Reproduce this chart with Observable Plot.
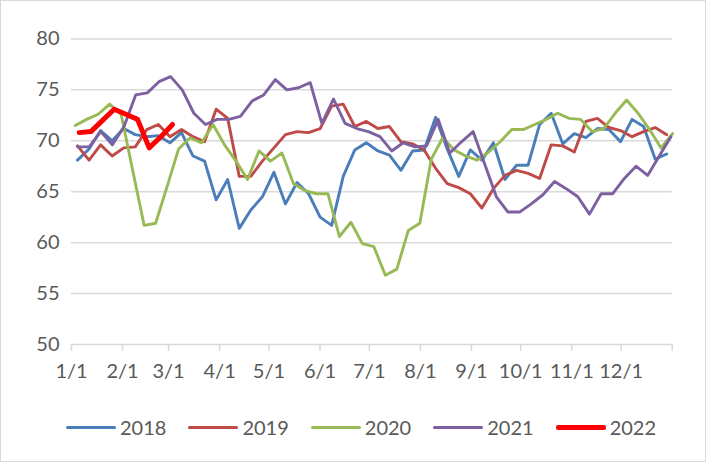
<!DOCTYPE html>
<html><head><meta charset="utf-8">
<script src="https://cdn.jsdelivr.net/npm/d3@7"></script>
<script src="https://cdn.jsdelivr.net/npm/@observablehq/plot@0.6"></script>
<style>
body{margin:0;background:#fff;}
#chart{position:relative;width:706px;height:462px;box-sizing:border-box;border:1px solid #d9d9d9;font-family:Lato,"Open Sans",sans-serif;color:#595959;overflow:hidden;background:#fff;}
#legend{position:absolute;left:65px;top:413px;display:flex;gap:22px;font-size:20px;line-height:26px;}
.item{display:flex;align-items:center;}
.swatch{width:50px;height:3px;border-radius:2px;margin-right:4px;}
</style></head><body><div id="chart"><div id="plot"></div><div id="legend"></div></div>
<script>
// Month tick positions (day of year) and their labels
const monthTickDays = [0, 31, 59, 90, 120, 151, 181, 212, 243, 273, 304, 334, 365];
const monthLabels = ["1/1","2/1","3/1","4/1","5/1","6/1","7/1","8/1","9/1","10/1","11/1","12/1",""];
const yTicks = [50, 55, 60, 65, 70, 75, 80];

const seriesNames = ["2018", "2019", "2020", "2021", "2022"];

// Weekly values
const v2018 = [68.1,69.2,71.0,70.0,71.2,70.6,70.4,70.5,69.8,70.8,
  68.5,68.0,64.2,66.2,61.4,63.2,64.5,66.9,63.8,65.9,
  64.8,62.5,61.7,66.5,69.1,69.8,69.0,68.6,67.1,69.0,
  69.1,72.3,69.2,66.5,69.1,68.1,69.8,66.2,67.6,67.6,
  71.6,72.7,69.7,70.7,70.3,71.2,71.1,69.9,72.1,71.4,
  68.2,68.7];
const v2019 = [69.5,68.1,69.6,68.5,69.3,69.4,71.1,71.6,70.4,71.1,
  70.4,69.9,73.1,72.2,66.5,66.5,68.0,69.3,70.6,70.9,
  70.8,71.2,73.4,73.6,71.4,71.9,71.2,71.4,69.9,69.7,
  69.1,67.3,65.8,65.4,64.8,63.4,65.3,66.6,67.1,66.8,
  66.3,69.6,69.5,68.9,71.9,72.2,71.3,71.0,70.4,70.9,
  71.3,70.6];
const v2020 = [71.5,72.1,72.6,73.6,72.6,67.1,61.7,61.9,65.5,69.2,
  70.3,69.8,71.6,69.6,68.0,66.2,69.0,68.0,68.8,65.8,
  65.1,64.8,64.8,60.6,62.0,59.9,59.6,56.8,57.4,61.2,
  61.9,68.2,70.3,69.1,68.5,68.1,68.9,69.9,71.1,71.1,
  71.6,72.1,72.7,72.2,72.1,70.9,71.2,72.7,74.0,72.7,
  71.1,69.3,70.7];
const v2021 = [69.4,69.4,70.9,69.6,71.4,74.5,74.7,75.8,76.3,75.0,
  72.7,71.6,72.1,72.1,72.4,73.9,74.5,76.0,75.0,75.2,
  75.7,71.7,74.1,71.7,71.2,70.9,70.4,69.0,69.8,69.4,
  69.5,72.1,68.8,69.9,70.9,67.7,64.5,63.0,63.0,63.8,
  64.7,66.0,65.3,64.5,62.8,64.8,64.8,66.3,67.5,66.6,
  68.5,70.4];
const v2022 = [70.8,70.9,72.0,73.1,72.6,72.1,69.3,70.4,71.6];

const seriesValues = [v2018, v2019, v2020, v2021, v2022];
// Day of year of each series' first weekly point, and spacing in days
const firstDay = [3.65, 3.65, 2.25, 3.65, 4.68];
const stepDay  = [7.02, 7.02, 6.98, 7.07, 7.09];

const colors = ["#4A7EBB", "#BE4B48", "#98B954", "#7D60A0", "#FF0000"];
const widths = [2.9, 2.9, 2.9, 2.9, 5];

const rows = seriesNames.flatMap((s, k) =>
  seriesValues[k].map((v, i) => ({series: s, day: firstDay[k] + i * stepDay[k], value: v})));

const labelOf = new Map(monthTickDays.map((d, i) => [d, monthLabels[i]]));

const plot = Plot.plot({
  width: 704,
  height: 390,
  marginLeft: 70,
  marginRight: 33.3,
  marginTop: 37.4,
  marginBottom: 47,
  style: {fontFamily: "Lato, 'Open Sans', sans-serif", fontSize: "20px", color: "#595959", background: "transparent", overflow: "visible"},
  x: {domain: [0, 365]},
  y: {domain: [50, 80]},
  marks: [
    Plot.gridY(yTicks.filter(t => t !== 50), {stroke: "#d9d9d9", strokeOpacity: 1, strokeWidth: 1.5}),
    Plot.ruleY([50], {stroke: "#d9d9d9", strokeWidth: 1.5}),
    Plot.axisY({ticks: yTicks, tickSize: 0, tickPadding: 12, label: null, fill: "#595959"}),
    Plot.axisX({ticks: monthTickDays, tickFormat: d => labelOf.get(d) ?? "", tickSize: 7, tickPadding: 12,
                stroke: "#d9d9d9", strokeWidth: 1.5, fill: "#595959", label: null}),
    ...seriesNames.map((s, k) => Plot.line(rows.filter(r => r.series === s), {
      x: "day", y: "value", stroke: colors[k], strokeWidth: widths[k],
      strokeLinejoin: "round", strokeLinecap: "round"
    }))
  ]
});
document.getElementById("plot").appendChild(plot);

const legend = document.getElementById("legend");
seriesNames.forEach((s, k) => {
  const item = document.createElement("div");
  item.className = "item";
  const sw = document.createElement("span");
  sw.className = "swatch";
  sw.style.background = colors[k];
  sw.style.height = (k === 4 ? 5 : 3) + "px";
  const t = document.createElement("span");
  t.textContent = s;
  item.appendChild(sw); item.appendChild(t);
  legend.appendChild(item);
});
</script></body></html>
